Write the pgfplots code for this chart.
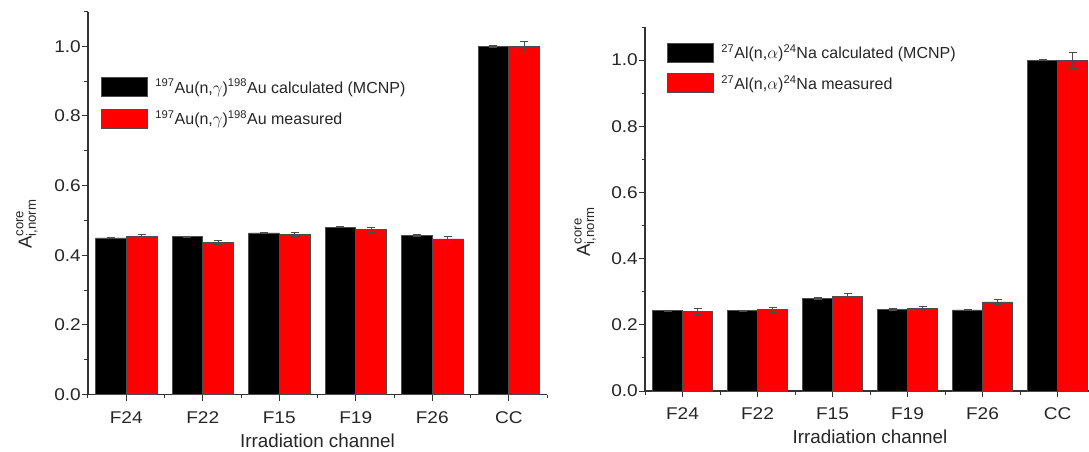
\documentclass[border=0pt]{standalone}
\usepackage{pgfplots}
\pgfplotsset{compat=1.18}
\usepackage{fontspec}
\usepackage{amsmath}
\setmainfont{Liberation Sans}
\newfontfamily\tickfont{Liberation Sans}[FakeStretch=1.12]
\definecolor{axgray}{gray}{0.2}
\pgfplotsset{
  common/.style={
    scale only axis,
    axis lines*=left,
    axis line style={line width=1.2pt, axgray},
    tick align=outside,
    major tick length=6pt, minor tick length=3.5pt,
    every tick/.style={line width=1pt, axgray},
    xmin=-0.5, xmax=5.5, ymin=0, ymax=1.1,
    xtick={0,1,2,3,4,5},
    xticklabels={F24,F22,F15,F19,F26,CC},
    minor xtick={-0.5,0.5,1.5,2.5,3.5,4.5,5.5},
    ytick={0,0.2,0.4,0.6,0.8,1.0},
    yticklabels={0.0,0.2,0.4,0.6,0.8,1.0},
    minor ytick={0.1,0.3,0.5,0.7,0.9,1.1},
    tick label style={font=\tickfont\fontsize{17}{20}\selectfont, text=black!85},
    xticklabel style={anchor=center, yshift=-17pt},
    yticklabel style={anchor=east, inner sep=0pt, xshift=-1pt},
    xlabel={Irradiation channel},
    label style={font=\fontsize{18.8}{22}\selectfont, text=black!85},
    xlabel style={at={(axis description cs:0.5,0)}, anchor=center, yshift=-46pt},
    ylabel={$\text{A}^{\text{core}}_{\text{i,norm}}$},
    ybar,
    legend cell align=left,
    legend style={draw=none, fill=none, inner sep=0pt, anchor=north west,
      font=\fontsize{16}{19}\selectfont, text=black!85, row sep=12pt,
      nodes={inner sep=0pt, anchor=west}},
  },
  errs/.style={
    error bars/y dir=both, error bars/y explicit,
    error bars/error bar style={line width=0.8pt, black!70},
    error bars/error mark options={rotate=90, mark size=4pt, line width=0.8pt, black!70}},
  calc/.style={errs, fill=black, draw=black!70, line width=0.6pt,
    legend image code/.code={\draw[fill=black, draw=black!70, line width=0.6pt] (0pt,-9.5pt) rectangle (46pt,9.5pt); \path (54pt,0pt);}},
  meas/.style={errs, fill=red, draw=black!70, line width=0.6pt,
    legend image code/.code={\draw[fill=red, draw=black!70, line width=0.6pt] (0pt,-9.5pt) rectangle (46pt,9.5pt); \path (54pt,0pt);}},
}
\begin{document}
\begin{tikzpicture}
\useasboundingbox (0pt,0pt) rectangle (1089pt,451pt);
\clip (0pt,0pt) rectangle (1089pt,451pt);
% Left: Au
\begin{axis}[common,
  at={(88pt,56.5pt)}, anchor=south west,
  width=459pt, height=383pt,
  bar width=30.6pt,
  ylabel style={at={(axis description cs:-0.133,0.445)}, anchor=center},
  legend style={at={(axis cs:-0.334,0.912)}},
]
\addplot[calc, bar shift=-15.3pt] coordinates {
  (0,0.450) +- (0,0.002)
  (1,0.453) +- (0,0.002)
  (2,0.464) +- (0,0.002)
  (3,0.481) +- (0,0.002)
  (4,0.457) +- (0,0.002)
  (5,1.000) +- (0,0.002)
};
\addlegendentry{\textsuperscript{197}Au(n,$\gamma$)\textsuperscript{198}Au calculated (MCNP)}
\addplot[meas, bar shift=15.3pt] coordinates {
  (0,0.453) +- (0,0.007)
  (1,0.437) +- (0,0.007)
  (2,0.460) +- (0,0.007)
  (3,0.474) +- (0,0.007)
  (4,0.447) +- (0,0.007)
  (5,1.000) +- (0,0.014)
};
\addlegendentry{\textsuperscript{197}Au(n,$\gamma$)\textsuperscript{198}Au measured}
\end{axis}
% Right: Al
\begin{axis}[common,
  at={(645pt,60pt)}, anchor=south west,
  width=450pt, height=364pt,
  bar width=30pt,
  ylabel style={at={(axis description cs:-0.133,0.437)}, anchor=center},
  legend style={at={(axis cs:-0.211,1.0535)}, row sep=11pt},
]
\addplot[calc, bar shift=-15pt] coordinates {
  (0,0.243) +- (0,0.002)
  (1,0.243) +- (0,0.002)
  (2,0.280) +- (0,0.002)
  (3,0.247) +- (0,0.002)
  (4,0.245) +- (0,0.002)
  (5,1.000) +- (0,0.002)
};
\addlegendentry{\textsuperscript{27}Al(n,$\alpha$)\textsuperscript{24}Na calculated (MCNP)}
\addplot[meas, bar shift=15pt] coordinates {
  (0,0.241) +- (0,0.008)
  (1,0.246) +- (0,0.007)
  (2,0.286) +- (0,0.008)
  (3,0.249) +- (0,0.007)
  (4,0.269) +- (0,0.008)
  (5,1.000) +- (0,0.024)
};
\addlegendentry{\textsuperscript{27}Al(n,$\alpha$)\textsuperscript{24}Na measured}
\end{axis}
\end{tikzpicture}
\end{document}
